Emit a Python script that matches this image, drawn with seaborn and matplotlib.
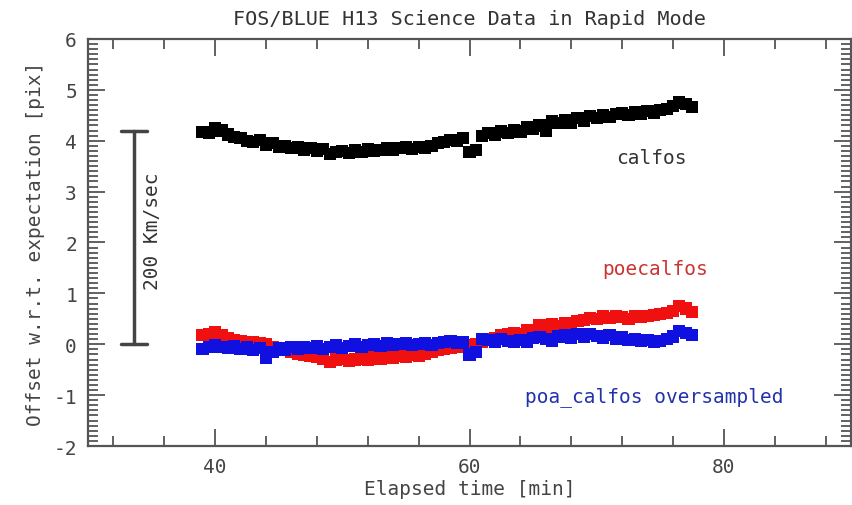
import numpy as np
import pandas as pd
import matplotlib
matplotlib.use("Agg")
import matplotlib.pyplot as plt
from matplotlib.ticker import MultipleLocator
import seaborn as sns

# ---- data ----
times = np.arange(39.0, 78.0, 0.5)  # sample times [min]

calfos = [4.17, 4.15, 4.25, 4.20, 4.12, 4.08, 4.05, 4.00, 3.98, 4.02,
          3.92, 3.95, 3.88, 3.90, 3.85, 3.88, 3.82, 3.86, 3.80, 3.84,
          3.74, 3.78, 3.80, 3.76, 3.82, 3.78, 3.84, 3.80, 3.82, 3.86,
          3.82, 3.86, 3.88, 3.84, 3.88, 3.86, 3.90, 3.95, 3.98, 4.02,
          4.00, 4.05, 3.78, 3.82, 4.10, 4.15, 4.12, 4.18, 4.15, 4.20,
          4.18, 4.27, 4.24, 4.30, 4.20, 4.38, 4.35, 4.40, 4.36, 4.44,
          4.40, 4.48, 4.44, 4.50, 4.46, 4.52, 4.55, 4.50, 4.56, 4.52,
          4.58, 4.55, 4.60, 4.62, 4.68, 4.75, 4.72, 4.66]

poecalfos = [0.18, 0.20, 0.23, 0.18, 0.12, 0.08, 0.06, 0.04, 0.05, 0.02,
             0.00, -0.05, -0.08, -0.12, -0.15, -0.18, -0.20, -0.22, -0.25, -0.28,
             -0.35, -0.30, -0.28, -0.32, -0.30, -0.28, -0.30, -0.26, -0.28, -0.25,
             -0.26, -0.22, -0.24, -0.20, -0.22, -0.18, -0.15, -0.12, -0.10, -0.08,
             -0.06, -0.04, -0.02, 0.00, 0.05, 0.10, 0.12, 0.18, 0.20, 0.22,
             0.20, 0.28, 0.25, 0.38, 0.35, 0.40, 0.36, 0.42, 0.40, 0.46,
             0.48, 0.52, 0.50, 0.55, 0.52, 0.56, 0.54, 0.50, 0.55, 0.53,
             0.56, 0.58, 0.59, 0.62, 0.66, 0.75, 0.70, 0.63]

oversampled = [-0.10, -0.06, -0.02, -0.05, -0.08, -0.04, -0.10, -0.06, -0.12, -0.08,
               -0.26, -0.15, -0.08, -0.12, -0.06, -0.10, -0.05, -0.08, -0.04, -0.10,
               -0.06, -0.02, -0.08, -0.04, 0.00, -0.05, -0.02, 0.00, -0.04, 0.02,
               -0.02, 0.00, 0.02, -0.02, 0.00, 0.03, -0.01, 0.02, 0.04, 0.06,
               0.02, 0.05, -0.20, -0.15, 0.10, 0.08, 0.05, 0.10, 0.06, 0.04,
               0.08, 0.04, 0.12, 0.14, 0.10, 0.06, 0.15, 0.18, 0.12, 0.20,
               0.15, 0.20, 0.16, 0.12, 0.18, 0.10, 0.14, 0.08, 0.10, 0.06,
               0.08, 0.04, 0.06, 0.10, 0.15, 0.26, 0.22, 0.18]

series_names = ["calfos", "poecalfos", "poa_calfos oversampled"]
series_colors = ["#000000", "#f01010", "#1010e0"]
label_colors = ["#333333", "#cc3333", "#2233aa"]
label_pos = [(74.3, 3.68), (74.6, 1.48), (74.5, -1.02)]

scale_bar_x = 33.6
scale_bar_y = (0.0, 4.2)
scale_bar_label = "200 Km/sec"

title = "FOS/BLUE H13 Science Data in Rapid Mode"
xlabel = "Elapsed time [min]"
ylabel = "Offset w.r.t. expectation [pix]"

df = pd.concat([
    pd.DataFrame({"t": times, "offset": calfos, "series": series_names[0]}),
    pd.DataFrame({"t": times, "offset": poecalfos, "series": series_names[1]}),
    pd.DataFrame({"t": times, "offset": oversampled, "series": series_names[2]}),
])

sns.set_theme(style="ticks")
plt.rcParams["font.family"] = ["DejaVu Sans Mono", "DejaVu Sans"]
gray = "#555555"
plt.rcParams.update({
    "axes.edgecolor": gray, "xtick.color": gray, "ytick.color": gray,
    "axes.labelcolor": "#444444", "text.color": "#444444",
    "xtick.labelcolor": "#444444", "ytick.labelcolor": "#444444",
    "axes.unicode_minus": False,
})

fig = plt.figure(figsize=(8.53, 5.06), dpi=100)
ax = fig.add_axes([0.1032, 0.1166, 0.8945, 0.8044])

sns.scatterplot(data=df, x="t", y="offset", hue="series", hue_order=series_names,
                palette=series_colors, marker="s", s=78, linewidth=0, legend=False, ax=ax)

fs = 14
for name, col, (lx, ly) in zip(series_names, label_colors, label_pos):
    ax.text(lx, ly, name, color=col, ha="center", va="center", fontsize=fs)

ax.plot([scale_bar_x, scale_bar_x], list(scale_bar_y), color="#444444", lw=2.5)
for yy in scale_bar_y:
    ax.plot([scale_bar_x - 1.0, scale_bar_x + 1.0], [yy, yy], color="#444444", lw=2.5)
ax.text(scale_bar_x + 1.5, 2.25, scale_bar_label, rotation=90, ha="center", va="center",
        fontsize=fs, color="#333333")

ax.set_xlim(30, 90)
ax.set_ylim(-2, 6)
ax.xaxis.set_major_locator(MultipleLocator(20))
ax.xaxis.set_minor_locator(MultipleLocator(4))
ax.yaxis.set_major_locator(MultipleLocator(1))
ax.yaxis.set_minor_locator(MultipleLocator(0.1))
ax.tick_params(which="both", direction="in", top=True, right=True, width=1.3)
ax.tick_params(which="major", length=12, labelsize=fs, pad=8)
ax.tick_params(which="minor", length=7)
for sp in ax.spines.values():
    sp.set_linewidth(1.6)
    sp.set_color(gray)

ax.set_xlabel(xlabel, fontsize=fs, labelpad=2)
ax.set_ylabel(ylabel, fontsize=fs, labelpad=6)
ax.set_title(title, fontsize=14.5, pad=11, color="#333333")

fig.savefig("out.png", dpi=100)
